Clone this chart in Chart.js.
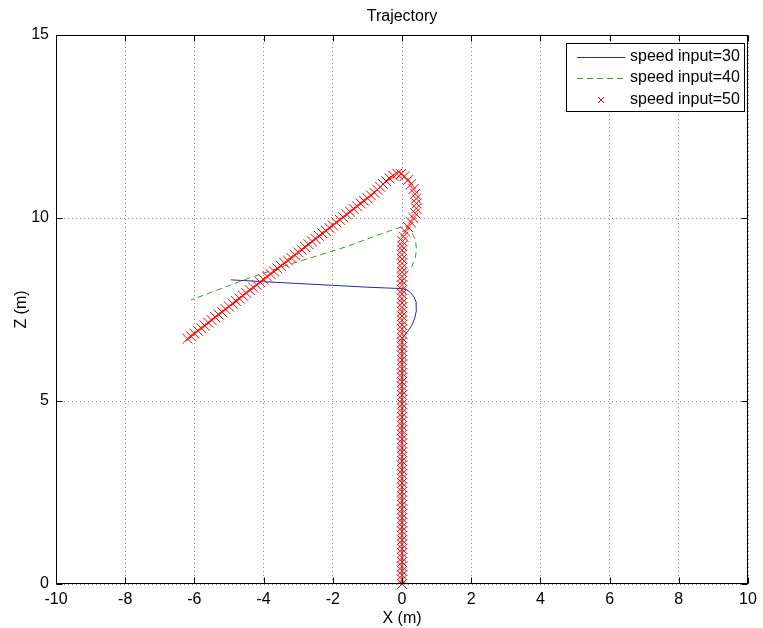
<!DOCTYPE html>
<html>
<head>
<meta charset="utf-8">
<title>Trajectory</title>
<script src="https://cdn.jsdelivr.net/npm/chart.js@4.4.1/dist/chart.umd.min.js"></script>
<style>
  html, body { margin: 0; padding: 0; background: #fff; }
  #wrap { width: 763px; height: 628px; }
</style>
</head>
<body>
<div id="wrap"><canvas id="trajChart" width="763" height="628"></canvas></div>
<script>
// Trajectory chart - X/Z path for three speed inputs

// speed input=30 (solid blue line)
const blueX = [0, 0, 0.03, 0.09, 0.2, 0.29, 0.37, 0.42, 0.41, 0.35, 0.25, 0.13, 0.03, -0.5, -1, -2, -3, -4, -4.95];
const blueZ = [0, 6.65, 6.74, 6.82, 6.94, 7.08, 7.27, 7.49, 7.7, 7.84, 7.96, 8.04, 8.07, 8.09, 8.11, 8.16, 8.21, 8.26, 8.31];

// speed input=40 (dashed green line)
const greenX = [0, 0, 0.04, 0.13, 0.28, 0.38, 0.42, 0.39, 0.3, 0.18, 0.09, -0.5, -1.6, -2.4, -3.24, -4.5, -6.1];
const greenZ = [0, 8.35, 8.42, 8.5, 8.67, 8.9, 9.13, 9.38, 9.58, 9.71, 9.79, 9.6, 9.22, 8.98, 8.74, 8.33, 7.76];

// speed input=50 (red x markers): straight climb at x=0, the turn, then the arm to the lower left
const redStemZ = [0, 0.12, 0.24, 0.36, 0.48, 0.6, 0.72, 0.84, 0.96, 1.08, 1.2, 1.32, 1.44, 1.56, 1.68, 1.8, 1.92, 2.04, 2.16, 2.28,
  2.4, 2.52, 2.64, 2.76, 2.88, 3, 3.12, 3.24, 3.36, 3.48, 3.6, 3.72, 3.84, 3.96, 4.08, 4.2, 4.32, 4.44, 4.56, 4.68,
  4.8, 4.92, 5.04, 5.16, 5.28, 5.4, 5.52, 5.64, 5.76, 5.88, 6, 6.12, 6.24, 6.36, 6.48, 6.6, 6.72, 6.84, 6.96, 7.08,
  7.2, 7.32, 7.44, 7.56, 7.68, 7.8, 7.92, 8.04, 8.16, 8.28, 8.4, 8.52, 8.64, 8.76, 8.88, 9, 9.12, 9.24];
const redTurnX = [0.01, 0.04, 0.1, 0.18, 0.26, 0.33, 0.38, 0.41, 0.42, 0.41, 0.38, 0.33, 0.26, 0.17, 0.07, -0.03, -0.14, -0.25, -0.36, -0.46, -0.55, -0.63, -0.71];
const redTurnZ = [9.36, 9.49, 9.62, 9.75, 9.88, 10.0, 10.13, 10.26, 10.4, 10.53, 10.66, 10.79, 10.92, 11.04, 11.14, 11.2, 11.21, 11.15, 11.08, 11.01, 10.93, 10.85, 10.77];
const redArmX = [-0.8, -0.9, -1.0, -1.1, -1.2, -1.3, -1.4, -1.5, -1.6, -1.7, -1.8, -1.9, -2.0, -2.1, -2.2, -2.3, -2.4, -2.5, -2.6, -2.7,
  -2.8, -2.9, -3.0, -3.1, -3.2, -3.3, -3.4, -3.5, -3.6, -3.7, -3.8, -3.9, -4.0, -4.1, -4.2, -4.3, -4.4, -4.5, -4.6, -4.7,
  -4.8, -4.9, -5.0, -5.1, -5.2, -5.3, -5.4, -5.5, -5.6, -5.7, -5.8, -5.9, -6.0, -6.1, -6.2];
const redArmZ = [10.69, 10.62, 10.54, 10.47, 10.40, 10.32, 10.25, 10.17, 10.10, 10.02, 9.95, 9.88, 9.80, 9.73, 9.65, 9.58, 9.51, 9.43, 9.36, 9.28,
  9.21, 9.13, 9.06, 8.99, 8.91, 8.84, 8.77, 8.69, 8.62, 8.54, 8.47, 8.40, 8.32, 8.25, 8.17, 8.10, 8.03, 7.95, 7.88, 7.80,
  7.73, 7.66, 7.58, 7.51, 7.43, 7.36, 7.29, 7.21, 7.14, 7.06, 6.99, 6.92, 6.84, 6.77, 6.70];

// axes
const xTicks = [-10, -8, -6, -4, -2, 0, 2, 4, 6, 8, 10];
const zTicks = [0, 5, 10, 15];
const seriesLabels = ['speed input=30', 'speed input=40', 'speed input=50'];

const FONT = { family: '"Liberation Sans", Arial, Helvetica, sans-serif', size: 16 };

function toPoints(xs, zs) {
  return xs.map((x, i) => ({ x: x, y: zs[i] }));
}

const redPoints = redStemZ.map(z => ({ x: 0, y: z }))
  .concat(toPoints(redTurnX, redTurnZ))
  .concat(toPoints(redArmX, redArmZ));

// 标题 + 外框 + 内刻度
const axesBoxPlugin = {
  id: 'axesBox',
  afterDraw(chart) {
    const { ctx, chartArea: a, scales } = chart;
    const L = Math.round(a.left) + 0.5, R = Math.round(a.right) - 0.5;
    const T = Math.round(a.top) + 0.5, B = Math.round(a.bottom) - 0.5;
    ctx.save();
    ctx.strokeStyle = '#000';
    ctx.lineWidth = 1;
    ctx.strokeRect(L, T, R - L, B - T);
    ctx.beginPath();
    xTicks.forEach(v => {
      const px = Math.round(scales.x.getPixelForValue(v)) + 0.5;
      ctx.moveTo(px, B); ctx.lineTo(px, B - 6);
      ctx.moveTo(px, T); ctx.lineTo(px, T + 6);
    });
    zTicks.forEach(v => {
      const py = Math.round(scales.y.getPixelForValue(v)) + 0.5;
      ctx.moveTo(L, py); ctx.lineTo(L + 6, py);
      ctx.moveTo(R, py); ctx.lineTo(R - 6, py);
    });
    ctx.stroke();

    ctx.fillStyle = '#000';
    ctx.font = FONT.size + 'px ' + FONT.family;
    ctx.textAlign = 'center';
    ctx.textBaseline = 'middle';
    ctx.fillText('Trajectory', (a.left + a.right) / 2, 17);
    ctx.restore();
  }
};

// 图例 (inside the axes, top right, boxed)
const boxLegendPlugin = {
  id: 'boxLegend',
  afterDraw(chart) {
    const { ctx } = chart;
    const bx = 566.5, by = 43.5, bw = 178, bh = 68;
    const rows = [57, 78, 100];
    ctx.save();
    ctx.fillStyle = '#fff';
    ctx.fillRect(bx, by, bw, bh);
    ctx.strokeStyle = '#000';
    ctx.lineWidth = 1;
    ctx.strokeRect(bx, by, bw, bh);

    chart.data.datasets.forEach((ds, i) => {
      const y = rows[i];
      ctx.save();
      if (ds.showLine) {
        ctx.strokeStyle = ds.borderColor;
        ctx.lineWidth = ds.borderWidth;
        ctx.setLineDash(ds.borderDash || []);
        ctx.beginPath();
        ctx.moveTo(577, y + 0.5);
        ctx.lineTo(625, y + 0.5);
        ctx.stroke();
      } else {
        ctx.strokeStyle = ds.pointBorderColor;
        ctx.lineWidth = 1;
        ctx.beginPath();
        ctx.moveTo(598, y - 3); ctx.lineTo(604, y + 3);
        ctx.moveTo(604, y - 3); ctx.lineTo(598, y + 3);
        ctx.stroke();
      }
      ctx.restore();
      ctx.fillStyle = '#000';
      ctx.font = FONT.size + 'px ' + FONT.family;
      ctx.textAlign = 'left';
      ctx.textBaseline = 'middle';
      ctx.fillText(ds.label, 630, y);
    });
    ctx.restore();
  }
};

const ctx = document.getElementById('trajChart').getContext('2d');

new Chart(ctx, {
  type: 'scatter',
  data: {
    datasets: [
      {
        label: seriesLabels[0],
        data: toPoints(blueX, blueZ),
        showLine: true,
        borderColor: '#2525b8',
        borderWidth: 1,
        pointRadius: 0,
        order: 3
      },
      {
        label: seriesLabels[1],
        data: toPoints(greenX, greenZ),
        showLine: true,
        borderColor: '#3a9a3a',
        borderWidth: 1,
        borderDash: [6, 4],
        pointRadius: 0,
        order: 2
      },
      {
        label: seriesLabels[2],
        data: redPoints,
        showLine: false,
        pointStyle: 'crossRot',
        pointRadius: 7,
        pointBorderColor: '#ff0000',
        pointBackgroundColor: '#ff0000',
        pointBorderWidth: 1,
        clip: false,
        order: 1
      }
    ]
  },
  options: {
    responsive: false,
    animation: false,
    events: [],
    layout: { padding: { top: 35, right: 15, left: 0, bottom: 0 } },
    plugins: {
      legend: { display: false },
      tooltip: { enabled: false },
      title: { display: false }
    },
    scales: {
      x: {
        type: 'linear',
        min: -10,
        max: 10,
        ticks: { stepSize: 2, color: '#000', font: FONT, padding: 6, maxRotation: 0, autoSkip: false },
        grid: { color: '#8a8a8a', lineWidth: 1, drawTicks: false },
        border: { display: false, dash: [1, 3] },
        title: { display: true, text: 'X (m)', color: '#000', font: FONT, padding: { top: 0, bottom: 0 } },
        afterFit(scale) { scale.height = 44; }
      },
      y: {
        type: 'linear',
        min: 0,
        max: 15,
        ticks: { stepSize: 5, color: '#000', font: FONT, padding: 7, autoSkip: false },
        grid: { color: '#8a8a8a', lineWidth: 1, drawTicks: false },
        border: { display: false, dash: [1, 3] },
        title: { display: true, text: 'Z (m)', color: '#000', font: FONT, padding: { top: 12, bottom: 0 } },
        afterFit(scale) { scale.width = 56; }
      }
    }
  },
  plugins: [axesBoxPlugin, boxLegendPlugin]
});
</script>
</body>
</html>
